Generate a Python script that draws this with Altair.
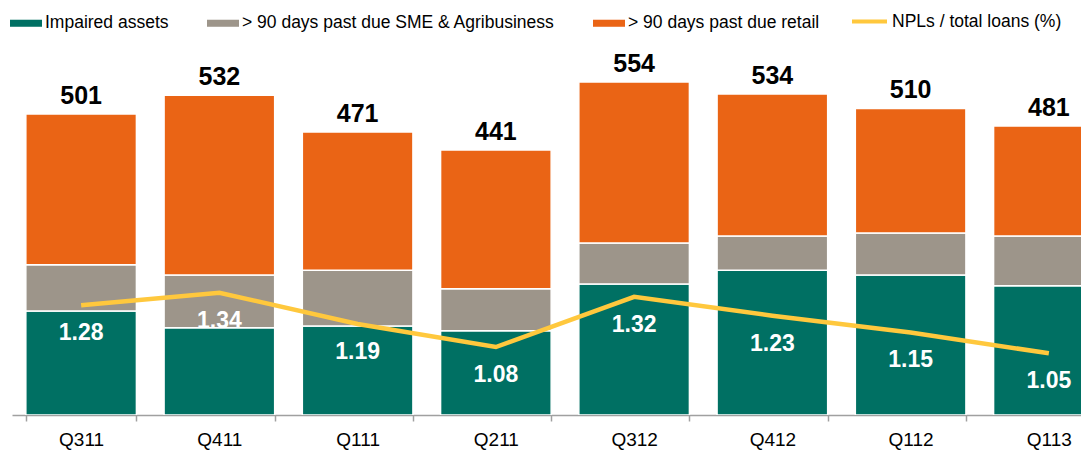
import altair as alt
import pandas as pd

quarters = ["Q311", "Q411", "Q111", "Q211", "Q312", "Q412", "Q112", "Q113"]
impaired = [173, 145, 148, 140, 218, 241, 233, 215]
sme_agri = [77, 88, 93, 70, 68, 57, 70, 83]
retail = [251, 299, 230, 231, 268, 236, 207, 183]
totals = [501, 532, 471, 441, 554, 534, 510, 481]
npl_ratio = [1.28, 1.34, 1.19, 1.08, 1.32, 1.23, 1.15, 1.05]

series_names = ["Impaired assets", "> 90 days past due SME & Agribusiness", "> 90 days past due retail"]
series_colors = ["#007063", "#9D958A", "#EA6415"]
line_name = "NPLs / total loans (%)"
line_color = "#FFC83D"

FONT = "Liberation Sans"

rows = []
for i, q in enumerate(quarters):
    for k, (name, vals) in enumerate(zip(series_names, [impaired, sme_agri, retail])):
        rows.append({"quarter": q, "series": name, "value": vals[i], "ord": k})
bar_df = pd.DataFrame(rows)
tot_df = pd.DataFrame({"quarter": quarters, "total": totals})
line_df = pd.DataFrame({"quarter": quarters, "npl": npl_ratio, "name": [line_name] * len(quarters)})

bar_domain = [0, 599]
line_domain = [0.755, 2.477]

x_enc = alt.X(
    "quarter:N",
    sort=quarters,
    scale=alt.Scale(paddingInner=0.2, paddingOuter=0.1, range=[0, 1106]),
    axis=alt.Axis(
        title=None, labelAngle=0, labelFont=FONT, labelFontSize=19, labelColor="black",
        labelPadding=9, tickSize=6, tickColor="#A0A0A0", tickWidth=1.5,
        domainColor="#A0A0A0", domainWidth=1.5, tickBand="extent", grid=False,
    ),
)

bars = alt.Chart(bar_df).mark_bar(stroke="white", strokeWidth=1.5, clip=True).encode(
    x=x_enc,
    y=alt.Y("value:Q", stack="zero", scale=alt.Scale(domain=bar_domain, nice=False), axis=None),
    fill=alt.Fill(
        "series:N",
        sort=series_names,
        scale=alt.Scale(domain=series_names, range=series_colors),
        legend=alt.Legend(
            title=None, orient="none", legendX=-2, legendY=-48, direction="horizontal",
            symbolType="M-1,-0.22H1V0.22H-1Z", symbolSize=1024, symbolStrokeWidth=0,
            symbolOpacity=1, labelFont=FONT, labelFontSize=17.5, labelColor="black",
            labelOffset=3, columnPadding=38, padding=0, labelLimit=500,
        ),
    ),
    order=alt.Order("ord:Q", sort="ascending"),
)

tot_text = alt.Chart(tot_df).mark_text(
    font=FONT, fontSize=25, fontWeight="bold", color="black", baseline="bottom", dy=-5
).encode(
    x=alt.X("quarter:N", sort=quarters),
    y=alt.Y("total:Q", scale=alt.Scale(domain=bar_domain, nice=False), axis=None),
    text=alt.Text("total:Q"),
)

line = alt.Chart(line_df).mark_line(strokeWidth=4.5).encode(
    x=alt.X("quarter:N", sort=quarters),
    y=alt.Y("npl:Q", scale=alt.Scale(domain=line_domain, nice=False, zero=False), axis=None),
    stroke=alt.Stroke(
        "name:N",
        scale=alt.Scale(domain=[line_name], range=[line_color]),
        legend=alt.Legend(
            title=None, orient="none", legendX=838, legendY=-53,
            symbolType="stroke", symbolSize=1225, symbolStrokeWidth=4,
            labelFont=FONT, labelFontSize=17.5, labelColor="black", labelOffset=3,
            padding=0, labelLimit=500,
        ),
    ),
)

npl_text = alt.Chart(line_df).mark_text(
    font=FONT, fontSize=23, fontWeight="bold", color="white", baseline="middle", dy=28
).encode(
    x=alt.X("quarter:N", sort=quarters),
    y=alt.Y("npl:Q", scale=alt.Scale(domain=line_domain, nice=False, zero=False), axis=None),
    text=alt.Text("npl:Q", format=".2f"),
)

chart = alt.layer(bars, tot_text, line, npl_text).resolve_scale(
    y="independent"
).properties(
    width=1069,
    height=360,
    autosize=alt.AutoSizeParams(type="none"),
    padding={"left": 4, "top": 47, "right": 0, "bottom": 35},
).configure_view(stroke=None)

chart.save("out.html", embed_options={"renderer": "svg", "actions": False})
